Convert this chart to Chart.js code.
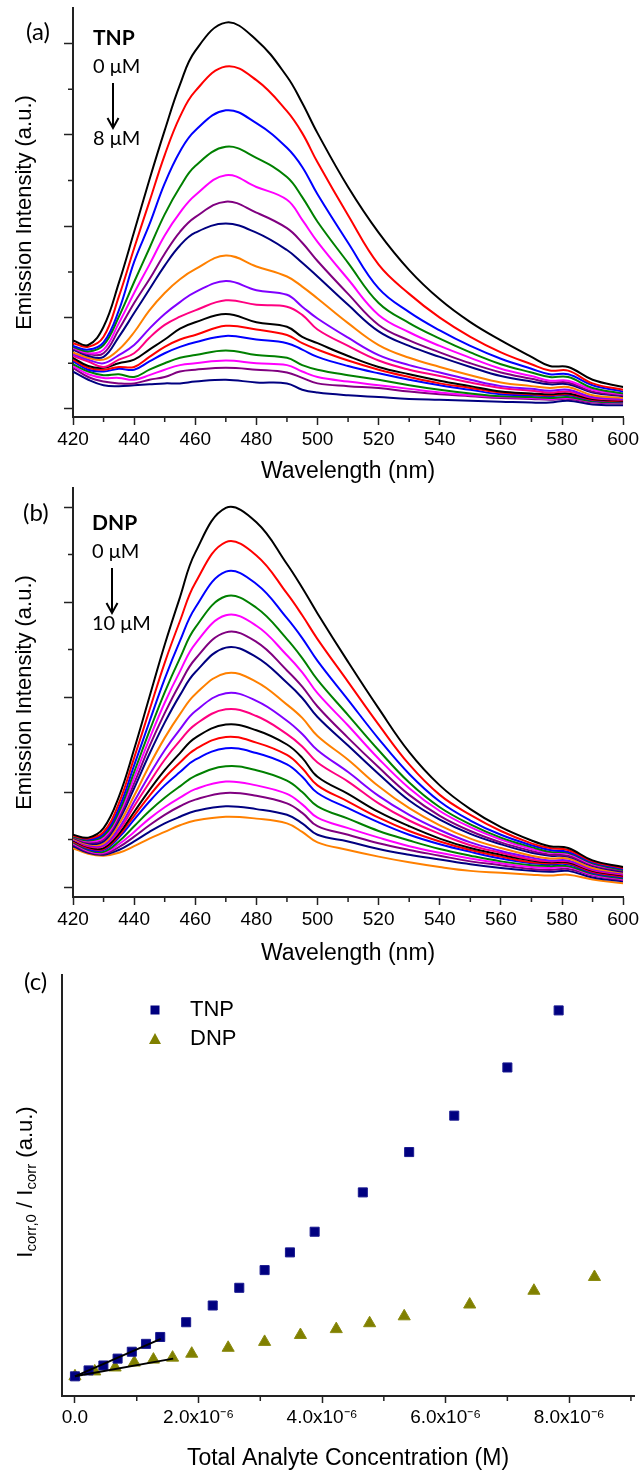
<!DOCTYPE html>
<html>
<head>
<meta charset="utf-8">
<script src="https://cdn.jsdelivr.net/npm/chart.js@4.4.1/dist/chart.umd.min.js"></script>
<style>
  html, body { margin: 0; padding: 0; background: #fff; }
  body { width: 642px; height: 1473px; position: relative; overflow: hidden; }
  canvas { position: absolute; left: 0; }
</style>
</head>
<body>
<canvas id="chartA" width="642" height="490" style="top:0px"></canvas>
<canvas id="chartB" width="642" height="487" style="top:480px"></canvas>
<canvas id="chartC" width="642" height="506" style="top:967px"></canvas>
<script>
// wavelengths (nm) shared by both sets of spectra
const wavelengths = [420, 425, 430, 435, 440, 445, 450, 455, 460, 470, 480, 490, 495, 500, 510, 520, 530, 540, 550, 560, 570, 576, 582, 590, 600];

// (a) TNP titration, 0 uM (top) -> 8 uM (bottom), intensity in tick units
const tnpSpectra = [
  [0.75, 0.70, 0.90, 1.38, 1.94, 2.51, 3.05, 3.55, 3.92, 4.23, 4.04, 3.64, 3.35, 3.02, 2.43, 1.93, 1.52, 1.20, 0.95, 0.75, 0.57, 0.47, 0.46, 0.32, 0.24],
  [0.72, 0.68, 0.79, 1.23, 1.76, 2.27, 2.78, 3.20, 3.48, 3.75, 3.60, 3.26, 3.02, 2.70, 2.12, 1.58, 1.26, 1.00, 0.79, 0.62, 0.49, 0.42, 0.42, 0.28, 0.21],
  [0.69, 0.65, 0.73, 1.08, 1.61, 2.02, 2.47, 2.82, 3.05, 3.27, 3.13, 2.86, 2.65, 2.35, 1.82, 1.32, 1.06, 0.86, 0.69, 0.55, 0.44, 0.38, 0.38, 0.26, 0.19],
  [0.68, 0.63, 0.70, 1.01, 1.39, 1.76, 2.13, 2.43, 2.66, 2.87, 2.75, 2.54, 2.32, 2.05, 1.60, 1.16, 0.94, 0.77, 0.62, 0.49, 0.40, 0.35, 0.35, 0.23, 0.17],
  [0.67, 0.61, 0.65, 0.94, 1.27, 1.58, 1.90, 2.15, 2.34, 2.56, 2.43, 2.29, 2.07, 1.83, 1.42, 1.03, 0.84, 0.69, 0.56, 0.44, 0.36, 0.31, 0.31, 0.21, 0.16],
  [0.66, 0.60, 0.61, 0.87, 1.16, 1.42, 1.70, 1.94, 2.10, 2.27, 2.15, 1.98, 1.82, 1.62, 1.26, 0.92, 0.75, 0.62, 0.50, 0.40, 0.33, 0.29, 0.29, 0.19, 0.15],
  [0.65, 0.58, 0.57, 0.79, 1.05, 1.31, 1.57, 1.79, 1.93, 2.03, 1.93, 1.74, 1.60, 1.45, 1.14, 0.85, 0.69, 0.57, 0.46, 0.36, 0.30, 0.27, 0.27, 0.18, 0.14],
  [0.62, 0.56, 0.54, 0.65, 0.84, 1.08, 1.27, 1.42, 1.53, 1.68, 1.56, 1.45, 1.34, 1.21, 0.94, 0.70, 0.56, 0.46, 0.37, 0.29, 0.25, 0.23, 0.24, 0.15, 0.12],
  [0.60, 0.54, 0.50, 0.59, 0.70, 0.88, 1.04, 1.17, 1.28, 1.40, 1.30, 1.25, 1.12, 0.99, 0.78, 0.59, 0.48, 0.40, 0.32, 0.25, 0.22, 0.20, 0.21, 0.13, 0.11],
  [0.58, 0.52, 0.46, 0.54, 0.61, 0.78, 0.92, 1.01, 1.08, 1.19, 1.14, 1.12, 1.03, 0.87, 0.69, 0.53, 0.43, 0.36, 0.29, 0.23, 0.20, 0.18, 0.19, 0.12, 0.10],
  [0.56, 0.47, 0.45, 0.50, 0.54, 0.65, 0.76, 0.88, 0.95, 1.04, 0.95, 0.90, 0.79, 0.72, 0.58, 0.46, 0.38, 0.31, 0.25, 0.19, 0.17, 0.16, 0.17, 0.11, 0.09],
  [0.54, 0.45, 0.43, 0.46, 0.46, 0.57, 0.68, 0.76, 0.81, 0.91, 0.87, 0.81, 0.72, 0.65, 0.53, 0.43, 0.35, 0.28, 0.23, 0.18, 0.16, 0.15, 0.16, 0.10, 0.085],
  [0.52, 0.43, 0.41, 0.44, 0.43, 0.52, 0.61, 0.68, 0.73, 0.80, 0.76, 0.72, 0.65, 0.57, 0.47, 0.39, 0.32, 0.26, 0.21, 0.16, 0.15, 0.14, 0.15, 0.095, 0.08],
  [0.49, 0.41, 0.37, 0.38, 0.35, 0.43, 0.50, 0.56, 0.59, 0.64, 0.59, 0.56, 0.48, 0.43, 0.37, 0.32, 0.26, 0.21, 0.17, 0.14, 0.13, 0.12, 0.13, 0.085, 0.07],
  [0.47, 0.38, 0.34, 0.34, 0.32, 0.37, 0.43, 0.48, 0.50, 0.53, 0.50, 0.48, 0.41, 0.35, 0.30, 0.26, 0.22, 0.18, 0.15, 0.13, 0.12, 0.11, 0.12, 0.08, 0.065],
  [0.45, 0.35, 0.30, 0.28, 0.28, 0.32, 0.35, 0.41, 0.43, 0.45, 0.43, 0.40, 0.34, 0.28, 0.25, 0.23, 0.19, 0.16, 0.14, 0.12, 0.11, 0.10, 0.11, 0.07, 0.06],
  [0.41, 0.32, 0.26, 0.25, 0.26, 0.27, 0.28, 0.28, 0.30, 0.32, 0.29, 0.28, 0.21, 0.18, 0.15, 0.13, 0.11, 0.10, 0.09, 0.08, 0.07, 0.07, 0.09, 0.05, 0.04]
];

// (b) DNP titration, 0 uM (top) -> 10 uM (bottom)
const dnpSpectra = [
  [0.55, 0.52, 0.62, 0.95, 1.45, 2.00, 2.55, 3.05, 3.52, 3.99, 3.84, 3.40, 3.15, 2.88, 2.37, 1.88, 1.42, 1.07, 0.82, 0.63, 0.49, 0.43, 0.41, 0.28, 0.21],
  [0.54, 0.51, 0.58, 0.88, 1.36, 1.86, 2.36, 2.80, 3.20, 3.63, 3.49, 3.09, 2.86, 2.61, 2.16, 1.71, 1.29, 0.97, 0.76, 0.59, 0.46, 0.41, 0.39, 0.27, 0.20],
  [0.54, 0.50, 0.56, 0.83, 1.28, 1.74, 2.19, 2.59, 2.94, 3.32, 3.19, 2.83, 2.62, 2.38, 1.97, 1.56, 1.19, 0.90, 0.70, 0.55, 0.44, 0.39, 0.37, 0.26, 0.19],
  [0.53, 0.49, 0.54, 0.79, 1.21, 1.64, 2.05, 2.41, 2.73, 3.06, 2.94, 2.61, 2.41, 2.18, 1.81, 1.44, 1.10, 0.84, 0.66, 0.52, 0.42, 0.37, 0.36, 0.25, 0.18],
  [0.53, 0.48, 0.52, 0.76, 1.15, 1.56, 1.94, 2.27, 2.56, 2.86, 2.75, 2.44, 2.26, 2.04, 1.70, 1.35, 1.04, 0.80, 0.63, 0.50, 0.40, 0.36, 0.35, 0.24, 0.18],
  [0.52, 0.47, 0.50, 0.73, 1.09, 1.48, 1.83, 2.14, 2.40, 2.68, 2.58, 2.28, 2.11, 1.90, 1.57, 1.26, 0.97, 0.75, 0.59, 0.47, 0.38, 0.34, 0.33, 0.23, 0.17],
  [0.52, 0.46, 0.48, 0.70, 1.04, 1.40, 1.73, 2.02, 2.26, 2.52, 2.42, 2.15, 1.99, 1.79, 1.49, 1.19, 0.91, 0.71, 0.56, 0.45, 0.36, 0.33, 0.32, 0.22, 0.16],
  [0.51, 0.45, 0.46, 0.66, 0.96, 1.28, 1.57, 1.82, 2.03, 2.25, 2.16, 1.92, 1.78, 1.59, 1.34, 1.06, 0.83, 0.65, 0.51, 0.41, 0.33, 0.30, 0.30, 0.20, 0.15],
  [0.50, 0.44, 0.44, 0.62, 0.90, 1.18, 1.44, 1.66, 1.85, 2.04, 1.96, 1.75, 1.61, 1.44, 1.21, 0.96, 0.76, 0.60, 0.47, 0.38, 0.31, 0.28, 0.28, 0.19, 0.14],
  [0.50, 0.43, 0.43, 0.59, 0.85, 1.10, 1.34, 1.54, 1.71, 1.87, 1.80, 1.61, 1.48, 1.31, 1.11, 0.88, 0.70, 0.56, 0.44, 0.36, 0.29, 0.27, 0.27, 0.18, 0.13],
  [0.49, 0.42, 0.41, 0.56, 0.79, 1.02, 1.23, 1.41, 1.57, 1.71, 1.65, 1.50, 1.36, 1.16, 0.98, 0.79, 0.64, 0.51, 0.41, 0.34, 0.28, 0.26, 0.26, 0.17, 0.12],
  [0.48, 0.41, 0.40, 0.54, 0.75, 0.96, 1.15, 1.31, 1.45, 1.58, 1.52, 1.39, 1.25, 1.07, 0.90, 0.73, 0.59, 0.48, 0.39, 0.32, 0.26, 0.25, 0.25, 0.16, 0.11],
  [0.48, 0.40, 0.39, 0.52, 0.71, 0.90, 1.07, 1.21, 1.34, 1.46, 1.41, 1.29, 1.16, 0.99, 0.83, 0.68, 0.55, 0.45, 0.37, 0.30, 0.25, 0.24, 0.24, 0.15, 0.10],
  [0.47, 0.39, 0.37, 0.48, 0.64, 0.80, 0.94, 1.06, 1.17, 1.27, 1.23, 1.12, 1.00, 0.85, 0.72, 0.59, 0.49, 0.40, 0.33, 0.27, 0.23, 0.22, 0.22, 0.14, 0.09],
  [0.46, 0.38, 0.36, 0.45, 0.58, 0.72, 0.84, 0.94, 1.03, 1.11, 1.07, 0.98, 0.87, 0.73, 0.62, 0.52, 0.43, 0.36, 0.30, 0.25, 0.21, 0.20, 0.21, 0.13, 0.08],
  [0.45, 0.37, 0.35, 0.42, 0.53, 0.65, 0.76, 0.85, 0.92, 0.99, 0.96, 0.88, 0.78, 0.64, 0.55, 0.46, 0.39, 0.33, 0.27, 0.23, 0.19, 0.18, 0.19, 0.12, 0.07],
  [0.43, 0.36, 0.34, 0.39, 0.48, 0.58, 0.67, 0.74, 0.80, 0.85, 0.82, 0.76, 0.67, 0.55, 0.48, 0.40, 0.34, 0.29, 0.24, 0.20, 0.17, 0.16, 0.17, 0.10, 0.06],
  [0.41, 0.35, 0.33, 0.36, 0.43, 0.51, 0.58, 0.65, 0.70, 0.74, 0.72, 0.67, 0.58, 0.47, 0.39, 0.32, 0.26, 0.21, 0.17, 0.15, 0.13, 0.12, 0.13, 0.08, 0.04]
];

const curveColors = ['#000000', '#ff0000', '#0000ff', '#008000', '#ff00ff', '#800080', '#000080', '#ff8000', '#8000ff', '#ff0080'];

// (c) concentration in uM (axis shows x10^-6 M), ratio I0/I
const tnpConc = [0, 0.22, 0.46, 0.69, 0.92, 1.15, 1.38, 1.80, 2.23, 2.66, 3.07, 3.48, 3.88, 4.66, 5.41, 6.14, 7.00, 7.83];
const tnpRatio = [1.00, 1.06, 1.11, 1.18, 1.25, 1.33, 1.40, 1.55, 1.72, 1.90, 2.08, 2.26, 2.47, 2.87, 3.28, 3.65, 4.14, 4.72];
const dnpConc = [0, 0.32, 0.65, 0.96, 1.27, 1.58, 1.89, 2.48, 3.07, 3.65, 4.23, 4.77, 5.33, 6.39, 7.43, 8.41];
const dnpRatio = [1.00, 1.05, 1.09, 1.14, 1.17, 1.19, 1.23, 1.29, 1.35, 1.42, 1.48, 1.54, 1.61, 1.73, 1.87, 2.01];
const tnpFitX = [0, 1.39];
const tnpFitY = [1.00, 1.38];
const dnpFitX = [0, 1.59];
const dnpFitY = [1.00, 1.18];

const AXIS_FONT = "'Liberation Sans', Arial, sans-serif";
const NOTE_FONT = "Lato, 'Liberation Sans', sans-serif";
const INK = '#222';

function pts(xs, ys) {
  return xs.map((x, i) => ({x: x, y: ys[i]}));
}

function minorTicks(chart, axis, values, len) {
  const s = chart.scales[axis];
  const area = chart.chartArea;
  const ctx = chart.ctx;
  ctx.save();
  ctx.strokeStyle = INK;
  ctx.lineWidth = 1.5;
  ctx.beginPath();
  values.forEach(v => {
    const p = s.getPixelForValue(v);
    if (axis === 'x') {
      ctx.moveTo(p, area.bottom);
      ctx.lineTo(p, area.bottom + len);
    } else {
      ctx.moveTo(area.left, p);
      ctx.lineTo(area.left - len, p);
    }
  });
  ctx.stroke();
  ctx.restore();
}

function label(ctx, str, x, y, font) {
  ctx.font = font;
  ctx.fillStyle = '#000';
  ctx.textAlign = 'left';
  ctx.textBaseline = 'middle';
  ctx.fillText(str, x, y);
}

function arrowDown(ctx, x, y1, y2) {
  ctx.save();
  ctx.strokeStyle = '#000';
  ctx.lineWidth = 2;
  ctx.beginPath();
  ctx.moveTo(x, y1);
  ctx.lineTo(x, y2);
  ctx.moveTo(x - 5.5, y2 - 10);
  ctx.lineTo(x, y2);
  ctx.lineTo(x + 5.5, y2 - 10);
  ctx.stroke();
  ctx.restore();
}

function spectraChart(id, curves, yMin, yMax, notes) {
  const extras = {
    id: 'extras',
    afterDraw(chart) {
      const ctx = chart.ctx;
      minorTicks(chart, 'x', [430, 450, 470, 490, 510, 530, 550, 570, 590], 5);
      minorTicks(chart, 'y', [0.5, 1.5, 2.5, 3.5], 5);
      label(ctx, notes.panel, notes.px, notes.py, '24px ' + NOTE_FONT);
      label(ctx, notes.name, notes.nx, notes.ny, 'bold 21px ' + NOTE_FONT);
      label(ctx, notes.from, notes.nx, notes.ny + 29, '20px ' + NOTE_FONT);
      arrowDown(ctx, notes.ax, notes.ny + 45, notes.ny + 90);
      label(ctx, notes.to, notes.nx, notes.ny + 101, '20px ' + NOTE_FONT);
    }
  };
  return new Chart(document.getElementById(id), {
    type: 'line',
    data: {
      datasets: curves.map((vals, i) => ({
        data: pts(wavelengths, vals),
        borderColor: curveColors[i % curveColors.length],
        borderWidth: 2,
        pointRadius: 0,
        tension: 0.4,
        fill: false
      }))
    },
    options: {
      responsive: false,
      animation: false,
      devicePixelRatio: 1,
      layout: {padding: {left: 0, right: 18, top: notes.top, bottom: 0}},
      plugins: {legend: {display: false}, tooltip: {enabled: false}},
      scales: {
        x: {
          type: 'linear', min: 420, max: 600,
          ticks: {stepSize: 20, color: '#000', font: {family: AXIS_FONT, size: 19}, padding: 3, maxRotation: 0, autoSkip: false},
          grid: {display: true, drawOnChartArea: false, drawTicks: true, tickLength: 8, tickColor: INK, tickWidth: 1.5},
          border: {display: true, color: INK, width: 2},
          title: {display: true, text: 'Wavelength (nm)', color: '#000', font: {family: AXIS_FONT, size: 23}, padding: {top: 0, bottom: notes.titlePad}},
          afterFit: s => { s.height = notes.xHeight; }
        },
        y: {
          type: 'linear', min: yMin, max: yMax,
          ticks: {display: false, stepSize: 1, includeBounds: false},
          grid: {display: true, drawOnChartArea: false, drawTicks: true, tickLength: 9, tickColor: INK, tickWidth: 1.5},
          border: {display: true, color: INK, width: 2},
          title: {display: true, text: 'Emission Intensity (a.u.)', color: '#000', font: {family: AXIS_FONT, size: 22}, padding: {top: 12, bottom: 0}},
          afterFit: s => { s.width = 73; }
        }
      }
    },
    plugins: [extras]
  });
}

spectraChart('chartA', tnpSpectra, -0.088, 4.39, {
  top: 8, xHeight: 73, titlePad: 5,
  panel: '(a)', px: 26, py: 32,
  name: 'TNP', nx: 93, ny: 38, ax: 113,
  from: '0 \u03bcM', to: '8 \u03bcM'
});

spectraChart('chartB', dnpSpectra, -0.105, 4.2, {
  top: 8, xHeight: 70, titlePad: 0,
  panel: '(b)', px: 23, py: 33,
  name: 'DNP', nx: 92, ny: 43, ax: 112,
  from: '0 \u03bcM', to: '10 \u03bcM'
});

// panel (c)
const scatterExtras = {
  id: 'scatterExtras',
  afterDraw(chart) {
    const ctx = chart.ctx;
    minorTicks(chart, 'x', [1, 3, 5, 7, 9], 5);
    label(ctx, '(c)', 24, 15, '24px ' + NOTE_FONT);

    // legend
    ctx.save();
    ctx.fillStyle = '#000080';
    ctx.fillRect(150.5, 38.5, 9, 9);
    ctx.fillStyle = '#808000';
    ctx.beginPath();
    ctx.moveTo(155, 66);
    ctx.lineTo(161, 77);
    ctx.lineTo(149, 77);
    ctx.closePath();
    ctx.fill();
    ctx.restore();
    label(ctx, 'TNP', 190, 43, '22px ' + AXIS_FONT);
    label(ctx, 'DNP', 190, 72, '22px ' + AXIS_FONT);

    // rotated y title with subscripts
    const parts = [
      ['I', 22, 0], ['corr,0', 15, 6], [' / I', 22, 0], ['corr', 15, 6], [' (a.u.)', 22, 0]
    ];
    ctx.save();
    let total = 0;
    parts.forEach(p => { ctx.font = p[1] + 'px ' + AXIS_FONT; total += ctx.measureText(p[0]).width; });
    ctx.translate(26, 215);
    ctx.rotate(-Math.PI / 2);
    ctx.fillStyle = '#000';
    ctx.textBaseline = 'middle';
    ctx.textAlign = 'left';
    let cx = -total / 2;
    parts.forEach(p => {
      ctx.font = p[1] + 'px ' + AXIS_FONT;
      ctx.fillText(p[0], cx, p[2]);
      cx += ctx.measureText(p[0]).width;
    });
    ctx.restore();
  }
};

new Chart(document.getElementById('chartC'), {
  type: 'scatter',
  data: {
    datasets: [
      {data: pts(tnpFitX, tnpFitY), showLine: true, borderColor: '#000', borderWidth: 2, pointRadius: 0},
      {data: pts(dnpFitX, dnpFitY), showLine: true, borderColor: '#000', borderWidth: 2, pointRadius: 0},
      {label: 'TNP', data: pts(tnpConc, tnpRatio), pointStyle: 'rect', pointRadius: 6.4,
       backgroundColor: '#000080', borderColor: '#1a1a90', borderWidth: 1},
      {label: 'DNP', data: pts(dnpConc, dnpRatio), pointStyle: 'triangle', pointRadius: 7,
       backgroundColor: '#808000', borderColor: '#8a8a10', borderWidth: 1}
    ]
  },
  options: {
    responsive: false,
    animation: false,
    devicePixelRatio: 1,
    layout: {padding: {left: 0, right: 1, top: 1, bottom: 0}},
    plugins: {legend: {display: false}, tooltip: {enabled: false}},
    scales: {
      x: {
        type: 'linear', min: -0.21, max: 9.05,
        ticks: {
          stepSize: 2, includeBounds: false, color: '#000', font: {family: AXIS_FONT, size: 19}, padding: 3, maxRotation: 0, autoSkip: false,
          callback: v => v === 0 ? '0.0' : v.toFixed(1) + 'x10\u207b\u2076'
        },
        grid: {display: true, drawOnChartArea: false, drawTicks: true, tickLength: 7, tickColor: INK, tickWidth: 1.5},
        border: {display: true, color: INK, width: 2},
        title: {display: true, text: 'Total Analyte Concentration (M)', color: '#000', font: {family: AXIS_FONT, size: 23}, padding: {top: 0, bottom: 1}},
        afterFit: s => { s.height = 77; }
      },
      y: {
        type: 'linear', min: 0.80, max: 5.08,
        ticks: {display: false},
        grid: {display: false},
        border: {display: true, color: INK, width: 2},
        afterFit: s => { s.width = 62; }
      }
    }
  },
  plugins: [scatterExtras]
});
</script>
</body>
</html>
